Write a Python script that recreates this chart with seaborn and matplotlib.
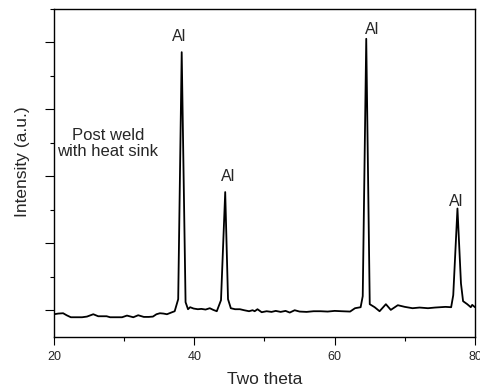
import matplotlib
matplotlib.use("Agg")
import matplotlib.pyplot as plt
import seaborn as sns
import pandas as pd
from matplotlib.ticker import MultipleLocator

# -------------------------
# XRD pattern
# -------------------------
two_theta = [20.0, 20.6, 21.3, 21.8, 22.4, 23.2, 24.0, 24.7, 25.6, 26.3,
             27.0, 27.5, 28.0, 28.8, 29.7, 30.4, 31.3, 32.0, 32.8, 33.5,
             34.1, 34.6, 35.1, 35.6, 36.1, 36.7, 37.2, 37.7, 38.2, 38.75,
             39.1, 39.4, 39.9, 40.5, 41.0, 41.6, 42.2, 42.7, 43.2, 43.8,
             44.4, 44.8, 45.2, 45.8, 46.5, 47.1, 47.8, 48.3, 48.6, 49.0,
             49.6, 50.3, 51.0, 51.6, 52.3, 53.0, 53.6, 54.3, 55.0, 56.0,
             57.0, 58.0, 59.0, 60.0, 61.0, 62.2, 62.9, 63.7, 64.0, 64.5,
             65.0, 65.7, 66.4, 67.3, 68.0, 69.0, 70.0, 71.1, 72.1, 73.3,
             74.3, 75.8, 76.6, 76.9, 77.5, 78.0, 78.3, 78.9, 79.4, 79.6,
             80.0]
intensity = [-0.12, -0.10, -0.09, -0.15, -0.21, -0.21, -0.21, -0.19, -0.12, -0.18,
             -0.18, -0.18, -0.21, -0.21, -0.21, -0.16, -0.21, -0.15, -0.20, -0.20,
             -0.19, -0.12, -0.09, -0.10, -0.12, -0.07, -0.03, 0.33, 7.71, 0.24,
             0.03, 0.09, 0.05, 0.03, 0.04, 0.02, 0.06, 0.01, -0.03, 0.30,
             3.53, 0.33, 0.06, 0.03, 0.03, 0.00, -0.03, 0.00, -0.03, 0.03,
             -0.06, -0.03, -0.05, -0.02, -0.05, -0.02, -0.07, 0.00, -0.04, -0.05,
             -0.03, -0.03, -0.04, -0.02, -0.03, -0.04, 0.06, 0.09, 0.42, 8.11,
             0.18, 0.09, -0.03, 0.18, 0.01, 0.15, 0.10, 0.06, 0.08, 0.06,
             0.08, 0.10, 0.09, 0.45, 3.04, 0.80, 0.27, 0.18, 0.09, 0.16,
             0.09]

# peak labels
peak_pos = [37.8, 44.8, 65.3, 77.35]
peak_lab_y = [8.18, 4.0, 8.39, 3.25]
peak_names = ["Al", "Al", "Al", "Al"]

df = pd.DataFrame({"two_theta": two_theta, "intensity": intensity})

sns.set_style("ticks")
plt.rcParams["font.family"] = ["Liberation Sans", "DejaVu Sans"]

fig = plt.figure(figsize=(4.81, 3.90), dpi=100)
ax = fig.add_axes([54 / 481, 1 - 337 / 390, 421 / 481, 328 / 390])

sns.lineplot(data=df, x="two_theta", y="intensity", color="black",
             linewidth=1.3, ax=ax, sort=False)

for xp, yp, name in zip(peak_pos, peak_lab_y, peak_names):
    ax.text(xp, yp, name, ha="center", va="center", fontsize=11.5)

ax.text(27.7, 4.98, "Post weld\nwith heat sink", ha="center", va="center",
        fontsize=12, linespacing=1.15)

ax.set_xlim(20, 80)
ax.set_ylim(-0.8, 9.0)
ax.xaxis.set_major_locator(MultipleLocator(20))
ax.xaxis.set_minor_locator(MultipleLocator(10))
ax.yaxis.set_major_locator(MultipleLocator(2))
ax.yaxis.set_minor_locator(MultipleLocator(1))
ax.set_yticklabels([])
ax.tick_params(which="major", length=6, width=0.8, color="black",
               labelsize=9, pad=4)
ax.tick_params(which="minor", length=3, width=0.8, color="black")
ax.tick_params(axis="y", which="major", length=6.5)

for s in ax.spines.values():
    s.set_visible(True)
    s.set_color("black")
    s.set_linewidth(1.0)

ax.set_xlabel("Two theta", fontsize=12.5, labelpad=6.5)
# label sits a little above the axis centre in the original
ax.set_ylabel("Intensity (a.u.)", fontsize=12.5, labelpad=7, y=0.534)

fig.savefig("out.png", dpi=100)
